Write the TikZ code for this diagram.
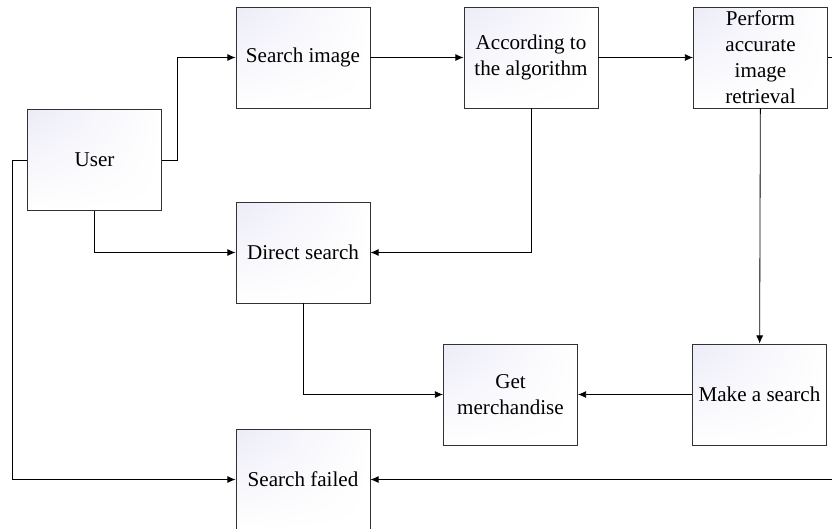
\documentclass[tikz,border=0pt]{standalone}
\usepackage{fontspec}
\setmainfont{Liberation Serif}
\usepackage{tikz}
\usetikzlibrary{shadings,arrows.meta}

\definecolor{boxtint}{RGB}{236,236,248}
\definecolor{edge}{RGB}{50,50,50}

\tikzset{
  stepbox/.style={draw=edge,line width=0.75pt,rectangle,
    upper left=boxtint,upper right=white,lower left=white,lower right=white,
    minimum width=134*0.03cm,minimum height=101*0.03cm,
    align=center,inner sep=0pt,
    font=\fontsize{18}{22.2}\selectfont},
  link/.style={draw=black,line width=0.7pt,-{Latex[length=7pt,width=6pt]}}
}

\begin{document}
\begin{tikzpicture}[x=0.03cm,y=-0.03cm]
   \useasboundingbox (0,0) rectangle (832,529);
   \clip (0,0) rectangle (832,529);

   \node[stepbox] (user)   at (94.5,160)  {User};
   \node[stepbox] (image)  at (303,57.5)  {Search image};
   \node[stepbox] (algo)   at (531,57.5)  {According to\\the algorithm};
   \node[stepbox] (perf)   at (760.5,57.5) {Perform\\accurate\\image\\retrieval};
   \node[stepbox] (direct) at (303,252.5) {Direct search};
   \node[stepbox] (goods)  at (510.5,394.5) {Get\\merchandise};
   \node[stepbox] (make)   at (759.5,394.5) {Make a search};
   \node[stepbox] (failed) at (303,479.5) {Search failed};

   \coordinate (bend) at (177,160);
   \coordinate (leftrail) at (12,160);
   \coordinate (rightrail) at (850,57.5);

   \draw[link] (user.east) -- (bend) |- (image.west);
   \draw[link] (image) -- (algo);
   \draw[link] (algo) -- (perf);
   \draw[link] (algo.south) |- (direct.east);
   \draw[link] (user.south) |- (direct.west);
   \draw[link] (perf) -- (make);
   \draw[link] (make) -- (goods);
   \draw[link] (direct.south) |- (goods.west);
   \draw[link] (user.west) -- (leftrail) |- (failed.west);
   \draw[link] (perf.east) -- (rightrail) |- (failed.east);
\end{tikzpicture}
\end{document}
